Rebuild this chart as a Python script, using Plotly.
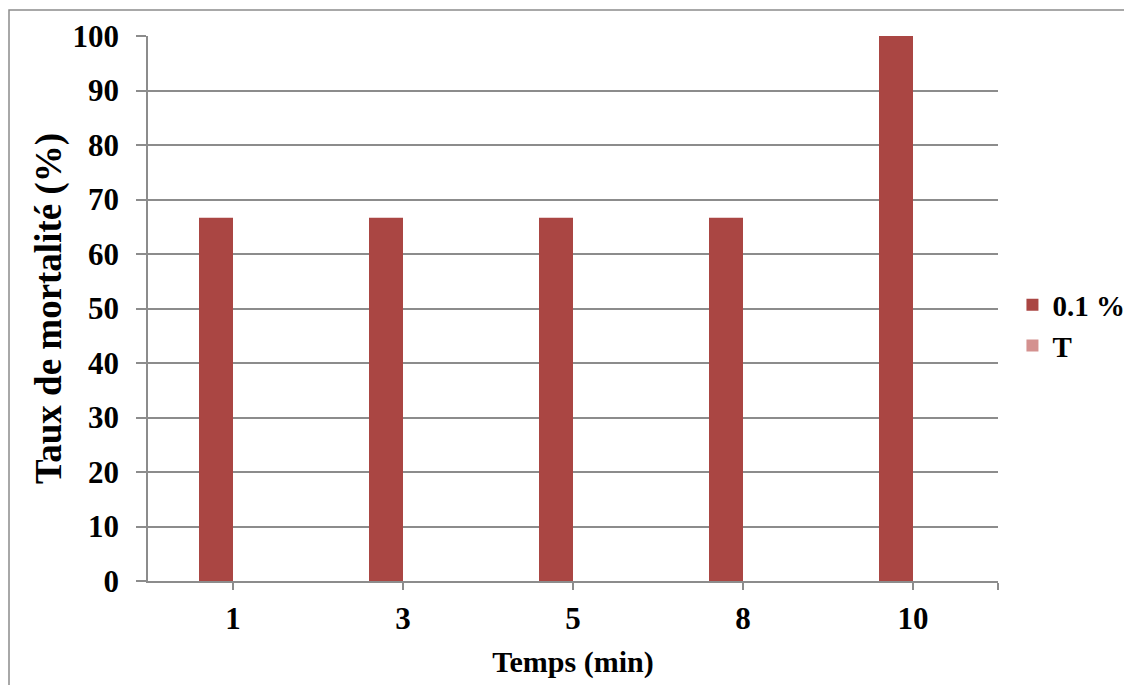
import plotly.graph_objects as go

categories = ["1", "3", "5", "8", "10"]
series_01 = [66.67, 66.67, 66.67, 66.67, 100]
series_T = [0, 0, 0, 0, 0]
y_ticks = [0, 10, 20, 30, 40, 50, 60, 70, 80, 90, 100]

positions = list(range(len(categories)))

FONT = "Liberation Serif"
GRAY = "#8c8c8c"

# page body has an 8px margin, so the figure is slightly smaller than the window
W, H = 1124, 677
L, T, R, B = 140, 28, 134, 104
PW, PH = W - L - R, H - T - B

fig = go.Figure()
fig.add_trace(go.Bar(x=positions, y=series_01, name="0.1 %", marker_color="#AA4643",
                     marker_line_width=0, offsetgroup="a"))
fig.add_trace(go.Bar(x=positions, y=series_T, name="T", marker_color="#D4918F",
                     marker_line_width=0, offsetgroup="b"))

fig.update_layout(
    width=W, height=H,
    margin=dict(l=L, r=R, t=T, b=B, autoexpand=False),
    paper_bgcolor="white", plot_bgcolor="white",
    barmode="group", bargap=0.6, bargroupgap=0,
    font=dict(family=FONT, color="black"),
    legend=dict(x=1.017, y=0.469, xanchor="left", yanchor="middle",
                font=dict(family=FONT, size=29, color="black", weight="bold"),
                itemwidth=30, tracegroupgap=0, bgcolor="rgba(0,0,0,0)"),
    shapes=[dict(type="rect", xref="paper", yref="paper",
                 x0=(1 - L) / PW, x1=(W + 20 - L) / PW,
                 y0=(PH + T - H - 20) / PH, y1=(PH + T - 2) / PH,
                 line=dict(color=GRAY, width=1.5), fillcolor="rgba(0,0,0,0)", layer="below")],
)

fig.update_xaxes(
    range=[-0.5, len(categories) - 0.5],
    tickmode="array",
    tickvals=positions + [len(categories) - 0.5],
    ticktext=categories + [""],
    ticks="outside", ticklen=7, tickcolor=GRAY, tickwidth=1.5,
    showline=True, linecolor=GRAY, linewidth=1.5,
    showgrid=False, zeroline=False, automargin=False,
    tickfont=dict(family=FONT, size=31, color="black", weight="bold"),
    ticklabelstandoff=2,
    title=dict(text="<b>Temps (min)</b>", font=dict(family=FONT, size=30, color="black"), standoff=16),
)

fig.update_yaxes(
    range=[0, 100],
    tickmode="array", tickvals=y_ticks,
    ticks="outside", ticklen=10, tickcolor=GRAY, tickwidth=1.5,
    showline=True, linecolor=GRAY, linewidth=1.5,
    showgrid=True, gridcolor=GRAY, gridwidth=1.5, zeroline=False, automargin=False,
    tickfont=dict(family=FONT, size=31, color="black", weight="bold"),
    ticklabelstandoff=11,
    title=dict(text="<b>Taux de mortalité (%)</b>", font=dict(family=FONT, size=37, color="black"), standoff=0),
)

fig.write_html("out.html")
